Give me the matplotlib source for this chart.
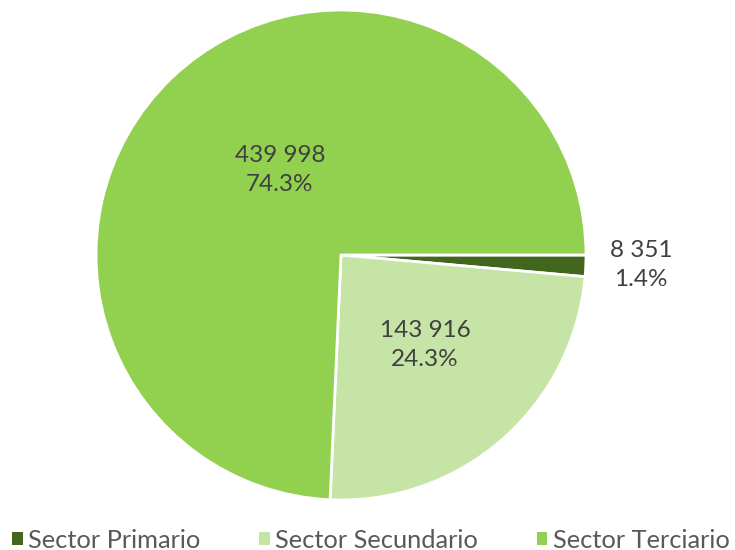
import matplotlib
matplotlib.use("Agg")
import matplotlib.pyplot as plt
from matplotlib.patches import Patch

categories = ["Sector Primario", "Sector Secundario", "Sector Terciario"]
values = [8351, 143916, 439998]
value_labels = ["8 351", "143 916", "439 998"]
colors = ["#43661E", "#C6E4A5", "#92D050"]

plt.rcParams['font.family'] = ['Lato', 'DejaVu Sans']

W, H = 735, 550
fig = plt.figure(figsize=(W/100, H/100), dpi=100)
cx, cy, r = 341, 255, 245
ax = fig.add_axes([(cx - r)/W, (H - cy - r)/H, 2*r/W, 2*r/H])
wedges, _ = ax.pie(values, colors=colors, startangle=0, counterclock=False,
                   radius=1, wedgeprops=dict(edgecolor="white", linewidth=2))
ax.set_xlim(-1, 1)
ax.set_ylim(-1, 1)
ax.set_aspect("equal")
ax.axis("off")

total = sum(values)
pcts = [f"{v/total*100:.1f}%" for v in values]
label_pos = [(1.225, -0.04), (0.343, -0.367), (-0.249, 0.347)]
for (x, y), vl, p in zip(label_pos, value_labels, pcts):
    ax.text(x, y, f"{vl}\n{p}", ha="center", va="center", fontsize=17.5,
            color="#404040", linespacing=1.45, clip_on=False)

handles = [Patch(facecolor=c, edgecolor="none") for c in colors]
fig.legend(handles, categories, loc="center left", bbox_to_anchor=(12/W, 1 - 540/H),
           ncol=3, frameon=False, fontsize=18.3, labelcolor="#595959",
           handlelength=0.42, handleheight=0.42, handletextpad=0.22,
           columnspacing=2.3, borderpad=0, borderaxespad=0)

fig.savefig("out.png", dpi=100)
